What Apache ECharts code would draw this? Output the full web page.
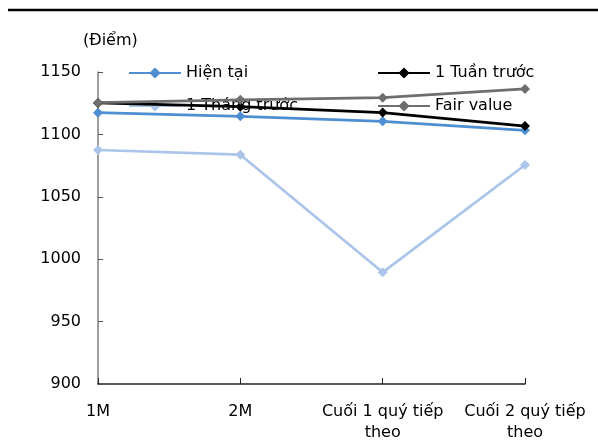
<!DOCTYPE html>
<html>
<head>
<meta charset="utf-8">
<script src="https://cdn.jsdelivr.net/npm/echarts@6/dist/echarts.min.js"></script>
<style>html,body{margin:0;padding:0;background:#fff}#c{width:598px;height:446px}</style>
</head>
<body>
<div id="c"></div>
<script>
var categories = ['1M', '2M', 'Cuối 1 quý tiếp\ntheo', 'Cuối 2 quý tiếp\ntheo'];
var hienTai = [1117.4, 1114.5, 1110.5, 1103.3];
var tuanTruoc = [1125.2, 1122.2, 1117.5, 1106.7];
var thangTruoc = [1087.5, 1083.7, 989.5, 1075.5];
var fairValue = [1125.4, 1127.7, 1129.4, 1136.4];
var yTicks = {min: 900, max: 1150, interval: 50};

var FONT = 'DejaVu Sans';
var names = ['Hiện tại', '1 Tuần trước', '1 Tháng trước', 'Fair value'];
var colors = ['#4e8ed2', '#000000', '#abc5ea', '#6e6e6e'];
var datas = [hienTai, tuanTruoc, thangTruoc, fairValue];

var legendPos = [[123, 60], [372, 60], [123, 93], [372, 93]];
var legends = names.map(function (n, i) {
  return {
    data: [n], left: legendPos[i][0], top: legendPos[i][1], z: 1,
    itemWidth: 52, itemHeight: 14, itemGap: 0,
    textStyle: {fontFamily: FONT, fontSize: 16, color: '#000'},
    selectedMode: false
  };
});

var chart = echarts.init(document.getElementById('c'), null, {renderer: 'canvas'});
chart.setOption({
  animation: false,
  backgroundColor: '#fff',
  textStyle: {fontFamily: FONT},
  legend: legends,
  grid: {left: 98, right: 73, top: 72, bottom: 62, containLabel: false},
  xAxis: {
    type: 'category', data: categories, boundaryGap: false,
    axisLine: {lineStyle: {color: '#222', width: 1.5}},
    axisTick: {show: true, inside: true, length: 6, alignWithLabel: true, lineStyle: {color: '#222'}},
    axisLabel: {fontFamily: FONT, fontSize: 16, color: '#000', margin: 17, lineHeight: 21, interval: 0},
    splitLine: {show: false}
  },
  yAxis: {
    type: 'value', min: yTicks.min, max: yTicks.max, interval: yTicks.interval,
    axisLine: {show: true, lineStyle: {color: '#7f7f7f', width: 1.5}},
    axisTick: {show: true, inside: true, length: 5, lineStyle: {color: '#555'}},
    axisLabel: {fontFamily: FONT, fontSize: 16, color: '#000', margin: 17,
      formatter: function (v) { return String(v); }},
    splitLine: {show: false}
  },
  graphic: [
    {type: 'line', shape: {x1: 8, y1: 10, x2: 598, y2: 10}, style: {stroke: '#000', lineWidth: 2.5}},
    {type: 'text', left: 83, top: 33, style: {text: '(Điểm)', font: '16px "DejaVu Sans"', fill: '#000'}}
  ],
  series: names.map(function (n, i) {
    return {
      name: n, type: 'line', data: datas[i], z: 3,
      symbol: 'diamond', symbolSize: 10, showSymbol: true,
      lineStyle: {color: colors[i], width: 2.75},
      itemStyle: {color: colors[i]}
    };
  })
});
</script>
</body>
</html>
